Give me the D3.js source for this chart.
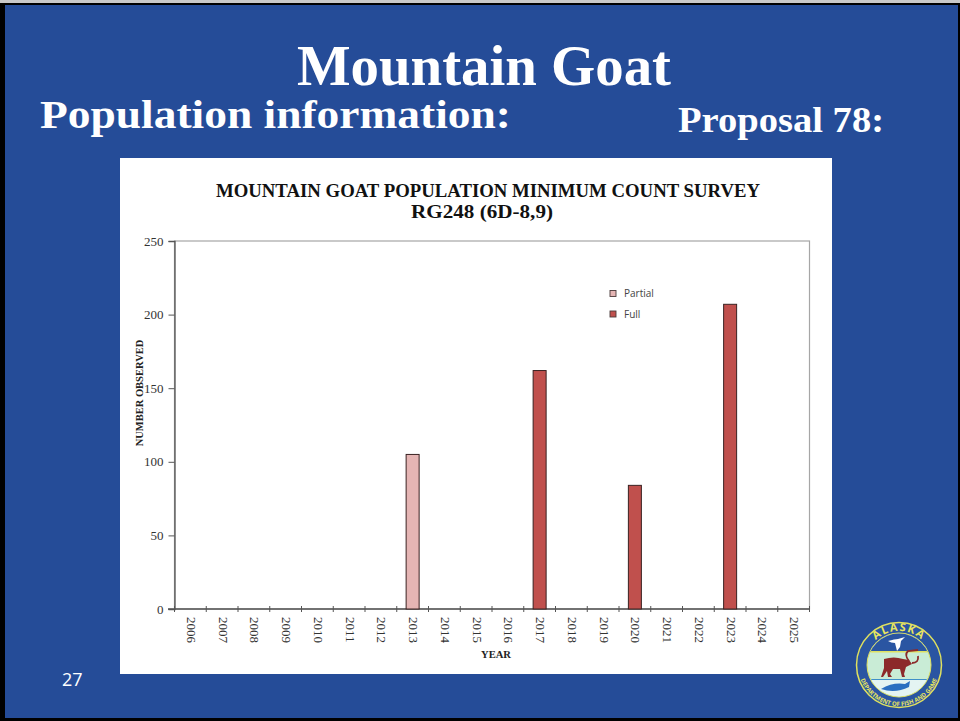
<!DOCTYPE html>
<html><head><meta charset="utf-8">
<script src="https://cdn.jsdelivr.net/npm/d3@7"></script>
<style>html,body{margin:0;padding:0;background:#fff}svg{display:block}</style></head>
<body><svg id="c" width="960" height="721"></svg>
<script>
const years = ["2006","2007","2008","2009","2010","2011","2012","2013","2014","2015","2016","2017","2018","2019","2020","2021","2022","2023","2024","2025"];
const partialValues = [null,null,null,null,null,null,null,105,null,null,null,null,null,null,null,null,null,null,null,null];
const fullValues = [null,null,null,null,null,null,null,null,null,null,null,162,null,null,84,null,null,207,null,null];
const yTicks = [0,50,100,150,200,250];
const legendItems = ["Partial","Full"];
const serif = "'Liberation Serif','Times New Roman',serif";
const sans = "'Open Sans','Noto Sans',sans-serif";
const svg = d3.select("#c");
const blue = "#254c98";

// slide
svg.append("rect").attr("width",960).attr("height",721).attr("fill","#000");
svg.append("rect").attr("width",960).attr("height",3).attr("fill","#c9c9c9");
svg.append("rect").attr("x",5).attr("y",5).attr("width",953).attr("height",713).attr("fill",blue);

const t = (x,y,s,size,o={}) => {
  const e = svg.append("text").attr("x",x).attr("y",y).text(s)
  .attr("font-family",o.f||serif).attr("font-size",size).attr("font-weight",o.w||"bold")
  .attr("fill",o.c||"#fff").attr("text-anchor",o.a||"start");
  if(o.len) e.attr("textLength",o.len).attr("lengthAdjust","spacingAndGlyphs");
  return e;
};
t(297,85,"Mountain Goat",56,{len:374});
t(40,128,"Population information:",40,{len:471});
t(678,132,"Proposal 78:",35.5,{len:206});
t(62,686,"27",18,{f:sans,w:"normal"});

// chart panel
svg.append("rect").attr("x",120).attr("y",158).attr("width",712).attr("height",516).attr("fill","#fff");
t(216,197,"MOUNTAIN GOAT POPULATION MINIMUM COUNT SURVEY",18.3,{len:544,c:"#111"});
t(411,218,"RG248 (6D-8,9)",18,{len:142,c:"#111"});

const x = d3.scaleBand().domain(years).range([174.5,809.5]);
const y = d3.scaleLinear().domain([0,250]).range([609,241]);
const barW = 13;
svg.append("rect").attr("x",174.5).attr("y",241).attr("width",635).attr("height",368)
  .attr("fill","none").attr("stroke","#a6a6a6").attr("stroke-width",1.2);

const yAxis = d3.axisLeft(y).tickValues(yTicks).tickSize(6).tickPadding(5);
const yG = svg.append("g").attr("transform","translate(174.5,0)").call(yAxis);
yG.select(".domain").attr("stroke","#555").attr("stroke-width",1.3);
yG.selectAll(".tick line").attr("stroke","#555");
yG.selectAll("text").attr("font-family",serif).attr("font-size",13).attr("fill","#333");

const xG = svg.append("g").attr("transform","translate(0,609)");
xG.append("line").attr("x1",168).attr("x2",809.5).attr("stroke","#555").attr("stroke-width",1.3);
const edges = years.map(d=>x(d)).concat([x.range()[1]]);
xG.selectAll(".e").data(edges).join("line").attr("class","e")
  .attr("x1",d=>d).attr("x2",d=>d).attr("y1",-3).attr("y2",3).attr("stroke","#555");
xG.selectAll(".l").data(years).join("text").attr("class","l").text(d=>d)
  .attr("transform",d=>`translate(${x(d)+x.bandwidth()/2-3.5},8) rotate(90)`)
  .attr("font-family",serif).attr("font-size",13).attr("fill","#333");

const drawBars = (vals,fill) => svg.append("g").selectAll("rect")
  .data(years.map((d,i)=>({d,v:vals[i]})).filter(o=>o.v!=null)).join("rect")
  .attr("x",o=>x(o.d)+x.bandwidth()/2-barW/2).attr("width",barW)
  .attr("y",o=>y(o.v)).attr("height",o=>y(0)-y(o.v))
  .attr("fill",fill).attr("stroke","#3a2222").attr("stroke-width",1);
drawBars(partialValues,"#e5b5b4");
drawBars(fullValues,"#c0504d");

t(481,658,"YEAR",11,{len:30,c:"#222"});
svg.append("text").text("NUMBER OBSERVED").attr("transform","translate(143,393) rotate(-90)")
  .attr("text-anchor","middle").attr("font-family",serif).attr("font-size",10.5).attr("font-weight","bold").attr("fill","#222");

// legend
const legendFill = ["#e5b5b4","#c0504d"];
const lg = svg.append("g").selectAll("g").data(legendItems).join("g")
  .attr("transform",(d,i)=>`translate(610,${293.5+i*20.5})`);
lg.append("rect").attr("x",0).attr("y",-3).attr("width",6).attr("height",6)
  .attr("fill",(d,i)=>legendFill[i]).attr("stroke","#4a3a3a").attr("stroke-width",.9);
lg.append("text").text(d=>d).attr("x",14).attr("y",3.5).attr("font-family",sans).attr("font-size",10).attr("fill","#444");

// logo
const L = svg.append("g").attr("transform","translate(899,665)");
L.append("circle").attr("r",42.5).attr("fill","#2a55a2").attr("stroke","#dfe05f").attr("stroke-width",1.5);
L.append("circle").attr("r",32).attr("fill","#c9ecd6").attr("stroke","#dfe05f").attr("stroke-width",1);
const defs = svg.append("defs");
defs.append("clipPath").attr("id","lc").append("circle").attr("r",31.5);
defs.append("path").attr("id","arcT").attr("d","M-34,0 A34,34 0 0 1 34,0");
defs.append("path").attr("id","arcB").attr("d","M-41,0 A41,41 0 0 0 41,0");
const inner = L.append("g").attr("clip-path","url(#lc)");
inner.append("rect").attr("x",-32).attr("y",-32).attr("width",64).attr("height",19).attr("fill","#2a55a2");
inner.append("rect").attr("x",-32).attr("y",-14).attr("width",64).attr("height",1.5).attr("fill","#e0e060");
inner.append("rect").attr("x",-32).attr("y",14).attr("width",64).attr("height",18).attr("fill","#e4f4f2");
inner.append("rect").attr("x",-32).attr("y",14).attr("width",64).attr("height",1).attr("fill","#3f8fc8");
L.append("path").attr("d","M-11,-24 Q-4,-26 -1,-26 L6,-28 L2,-24 L1,-18 L-2,-14 L-4,-22 Q-8,-22 -11,-24 Z").attr("fill","#fff");
L.append("path").attr("d","M-15,-6 Q-5,-9 4,-6 L10,-5 L13,-1 L9,1 L7,2 L5,9 L6,12 L3,12 L1,4 L-6,4 L-9,9 L-7,12 L-11,12 L-12,6 L-16,12 L-18,12 L-15,3 Z").attr("fill","#8c2a2a");
L.append("path").attr("d","M10,-4 Q5,-10 9,-14 L19,-15 M13,-2 Q20,-2 19,-9").attr("fill","none").attr("stroke","#8c2a2a").attr("stroke-width",1.8);
L.append("path").attr("d","M-18,24 Q-6,17 6,19 L11,16 L10,22 Q-4,29 -18,24 Z").attr("fill","#2a6fc0");
L.append("text").append("textPath").attr("href","#arcT").attr("startOffset","50%").attr("text-anchor","middle")
  .text("ALASKA").attr("font-family",sans).attr("font-size",11).attr("font-weight","bold").attr("fill","#e9e65f").attr("letter-spacing",1.5);
L.append("text").append("textPath").attr("href","#arcB").attr("startOffset","50%").attr("text-anchor","middle")
  .text("DEPARTMENT OF FISH AND GAME").attr("font-family",sans).attr("font-size",6).attr("font-weight","bold").attr("fill","#e9e65f");
</script></body></html>
